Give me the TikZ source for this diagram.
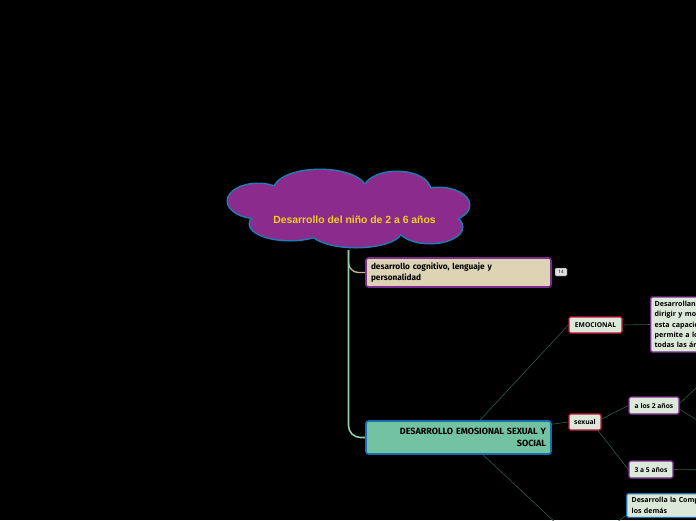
\documentclass[tikz,border=0pt]{standalone}
\usepackage{fontspec}
\usepackage{xcolor}
\newfontfamily\titlefont{Liberation Sans}
\newfontfamily\topicfont{Fira Sans}
\newfontfamily\leaffont{Open Sans}
\definecolor{MapBack}{HTML}{000000}
\definecolor{CloudFill}{HTML}{8B2C8C}
\definecolor{CloudLine}{HTML}{1E7DB5}
\definecolor{TitleYellow}{HTML}{F2D01E}
\definecolor{TopicTan}{HTML}{DDD4B6}
\definecolor{TopicPurple}{HTML}{7B2E8E}
\definecolor{SocialFill}{HTML}{73C3A3}
\definecolor{SocialLine}{HTML}{1670B0}
\definecolor{LeafFill}{HTML}{DCE8D9}
\definecolor{LeafRed}{HTML}{C4153A}
\definecolor{LinkGreen}{HTML}{2F5B4C}
\definecolor{TrunkGreen}{HTML}{8FCCAE}
\definecolor{TanLine}{HTML}{C9B98F}
\tikzset{
  topic/.style={draw, rounded corners=2.5, line width=1.6, inner xsep=5, inner ysep=0,
    font=\topicfont\bfseries\fontsize{8.3}{10.5}\selectfont},
  leaf/.style={draw, rounded corners=1.5, line width=1.3, fill=LeafFill, inner sep=0,
    font=\leaffont\bfseries\fontsize{6.7}{10.4}\selectfont},
  link/.style={LinkGreen, line width=0.6},
}
\begin{document}
\begin{tikzpicture}[x=1pt,y=-1pt]
\path[use as bounding box] (0,0) rectangle (696,520);
\fill[MapBack] (0,0) rectangle (696,520);
\clip (0,0) rectangle (696,520);
% central idea: cloud from overlapping puffs
\foreach \cx/\cy/\rx/\ry in {258/201/30/17, 320/190/46/20, 397/190/33/18, 438/205/31/17,
    430/227/32/16, 356/230/46/17, 290/224/40/16}
  \filldraw[fill=CloudFill, draw=CloudLine, line width=3] (\cx,\cy) ellipse [x radius=\rx, y radius=\ry];
\foreach \cx/\cy/\rx/\ry in {258/201/30/17, 320/190/46/20, 397/190/33/18, 438/205/31/17,
    430/227/32/16, 356/230/46/17, 290/224/40/16, 348/208/100/24}
  \fill[CloudFill] (\cx,\cy) ellipse [x radius=\rx, y radius=\ry];
\node[font=\titlefont\bfseries\fontsize{10.4}{12}\selectfont, text=TitleYellow] (root) at (354.5,220) {Desarrollo del niño de 2 a 6 años};
\coordinate (rootbase) at (348.5,250);
% main topics
\node[topic, draw=TopicPurple, fill=TopicTan, text width=175, minimum height=29, align=left] (cogn) at (458.5,272.5)
  {desarrollo cognitivo, lenguaje y\\personalidad};
\node[draw=black!70, fill=black!12, rounded corners=1, line width=0.4, minimum width=12, minimum height=8,
  inner sep=0, font=\leaffont\fontsize{4.5}{5}\selectfont] (badge) at (561,272) {14};
\node[topic, draw=SocialLine, fill=SocialFill, text width=175, minimum height=33, align=right,
  font=\topicfont\bfseries\fontsize{9}{11.5}\selectfont] (social) at (458.5,437.5)
  {DESARROLLO EMOSIONAL SEXUAL Y\\SOCIAL};
\draw[TanLine, line width=1.3, rounded corners=10] (rootbase) |- (cogn.west);
\draw[TrunkGreen, line width=1.6, rounded corners=12] (rootbase) |- (social.west);
% subtopics
\node[leaf, draw=LeafRed, minimum width=53, minimum height=16] (emoc) at (595.5,325) {EMOCIONAL};
\node[leaf, draw=LeafRed, minimum width=32, minimum height=16] (sexual) at (585,422) {sexual};
\node[leaf, draw=TopicPurple, minimum width=50, minimum height=17] (dosanos) at (654,405.5) {a los 2 años};
\node[leaf, draw=TopicPurple, minimum width=44, minimum height=17] (tresanos) at (651,469.5) {3 a 5 años};
\node[leaf, draw=TopicPurple, anchor=west, text width=124, inner xsep=4, minimum height=55, align=left,
  font=\leaffont\bfseries\fontsize{7.1}{10.4}\selectfont] (emotxt) at (650,324.5)
  {Desarrollan la capacidad de\\dirigir y moderar sus emociones,\\esta capacidad les\\permite a los niños\\todas las áreas};
\node[leaf, draw=SocialLine, anchor=north west, text width=150, inner xsep=5, inner ysep=4, align=left,
  font=\leaffont\bfseries\fontsize{7}{10.4}\selectfont] (compet) at (626,493)
  {Desarrolla la Competencia social con\\los demás};
% off-page ends
\coordinate (socialdown) at (590,555);
\coordinate (competin) at (595,538);
\coordinate (dosup) at (712,373);
\coordinate (dosdown) at (712,429);
\coordinate (tresout) at (712,470);
% connectors
\draw[link] ([xshift=21.5]social.north) -- (emoc.west);
\draw[link] ([yshift=-4]social.north east) -- (sexual.west);
\draw[link] ([xshift=24.5]social.south) -- (socialdown);
\draw[link] (emoc.east) -- (emotxt.west);
\draw[link] ([yshift=3]sexual.east) -- (dosanos.west);
\draw[link] ([xshift=13]sexual.south) -- (tresanos.west);
\draw[link] ([yshift=2]dosanos.east) -- (dosup);
\draw[link] ([yshift=-4]dosanos.east) -- (dosdown);
\draw[link] (tresanos.east) -- (tresout);
\draw[link] (competin) -- ([yshift=-10]compet.west);
\end{tikzpicture}
\end{document}
